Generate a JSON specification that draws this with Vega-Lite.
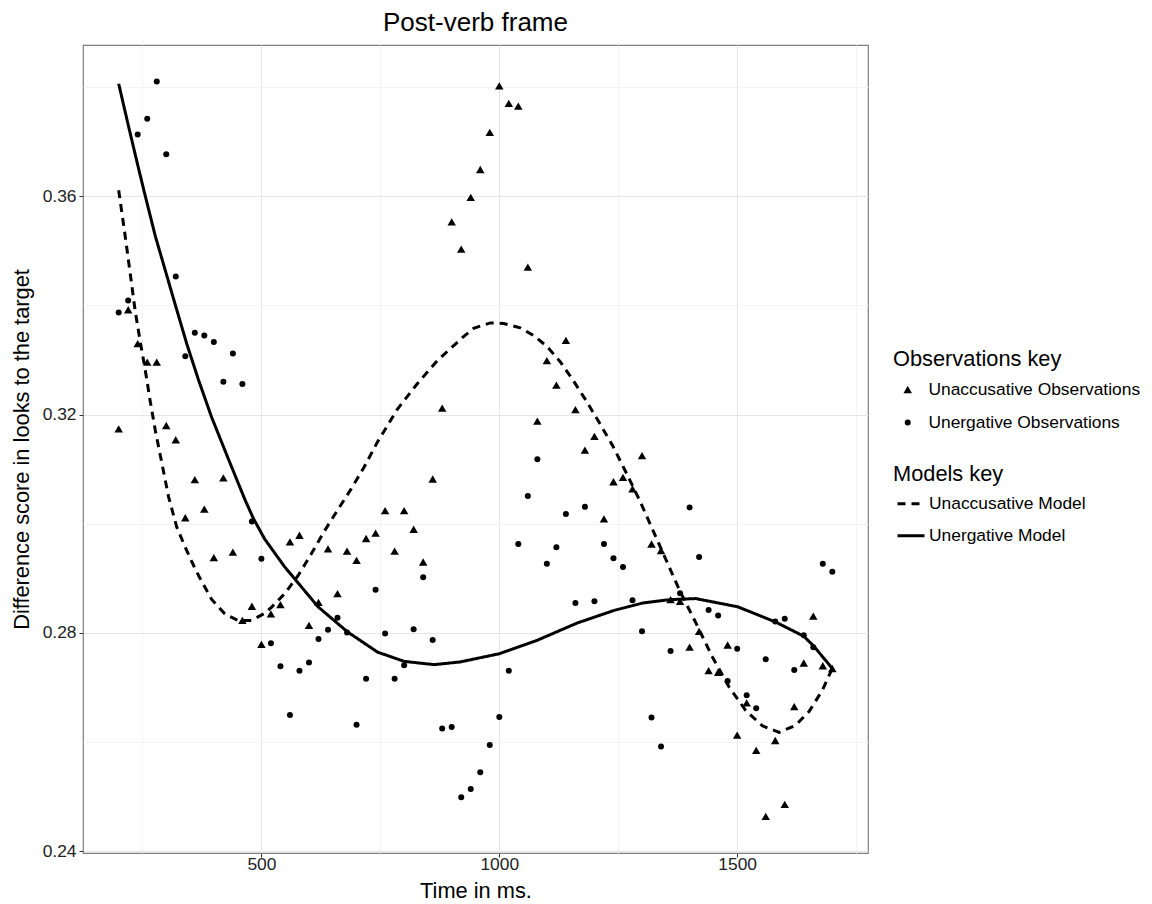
{
  "$schema": "https://vega.github.io/schema/vega-lite/v6.json",
  "width": 785,
  "height": 808,
  "autosize": {"type": "none"},
  "padding": {"left": 83, "top": 45, "right": 284, "bottom": 51},
  "background": "white",
  "title": {"text": "Post-verb frame", "fontSize": 26, "fontWeight": "normal", "color": "black", "frame": "group", "anchor": "middle", "baseline": "alphabetic", "offset": -12},
  "datasets": {
    "obs": [
      {"time":200,"score":0.3174,"type":"Unaccusative Observations"},
      {"time":220,"score":0.3392,"type":"Unaccusative Observations"},
      {"time":240,"score":0.3330,"type":"Unaccusative Observations"},
      {"time":260,"score":0.3296,"type":"Unaccusative Observations"},
      {"time":280,"score":0.3296,"type":"Unaccusative Observations"},
      {"time":300,"score":0.3180,"type":"Unaccusative Observations"},
      {"time":320,"score":0.3154,"type":"Unaccusative Observations"},
      {"time":340,"score":0.3011,"type":"Unaccusative Observations"},
      {"time":360,"score":0.3081,"type":"Unaccusative Observations"},
      {"time":380,"score":0.3027,"type":"Unaccusative Observations"},
      {"time":400,"score":0.2938,"type":"Unaccusative Observations"},
      {"time":420,"score":0.3084,"type":"Unaccusative Observations"},
      {"time":440,"score":0.2948,"type":"Unaccusative Observations"},
      {"time":460,"score":0.2823,"type":"Unaccusative Observations"},
      {"time":480,"score":0.2849,"type":"Unaccusative Observations"},
      {"time":500,"score":0.2779,"type":"Unaccusative Observations"},
      {"time":520,"score":0.2835,"type":"Unaccusative Observations"},
      {"time":540,"score":0.2852,"type":"Unaccusative Observations"},
      {"time":560,"score":0.2967,"type":"Unaccusative Observations"},
      {"time":580,"score":0.2979,"type":"Unaccusative Observations"},
      {"time":600,"score":0.2814,"type":"Unaccusative Observations"},
      {"time":620,"score":0.2856,"type":"Unaccusative Observations"},
      {"time":640,"score":0.2954,"type":"Unaccusative Observations"},
      {"time":660,"score":0.2872,"type":"Unaccusative Observations"},
      {"time":680,"score":0.2950,"type":"Unaccusative Observations"},
      {"time":700,"score":0.2933,"type":"Unaccusative Observations"},
      {"time":720,"score":0.2973,"type":"Unaccusative Observations"},
      {"time":740,"score":0.2983,"type":"Unaccusative Observations"},
      {"time":760,"score":0.3024,"type":"Unaccusative Observations"},
      {"time":780,"score":0.2950,"type":"Unaccusative Observations"},
      {"time":800,"score":0.3024,"type":"Unaccusative Observations"},
      {"time":820,"score":0.2990,"type":"Unaccusative Observations"},
      {"time":840,"score":0.2930,"type":"Unaccusative Observations"},
      {"time":860,"score":0.3082,"type":"Unaccusative Observations"},
      {"time":880,"score":0.3212,"type":"Unaccusative Observations"},
      {"time":900,"score":0.3553,"type":"Unaccusative Observations"},
      {"time":920,"score":0.3503,"type":"Unaccusative Observations"},
      {"time":940,"score":0.3598,"type":"Unaccusative Observations"},
      {"time":960,"score":0.3649,"type":"Unaccusative Observations"},
      {"time":980,"score":0.3717,"type":"Unaccusative Observations"},
      {"time":1000,"score":0.3802,"type":"Unaccusative Observations"},
      {"time":1020,"score":0.3770,"type":"Unaccusative Observations"},
      {"time":1040,"score":0.3765,"type":"Unaccusative Observations"},
      {"time":1060,"score":0.3470,"type":"Unaccusative Observations"},
      {"time":1080,"score":0.3188,"type":"Unaccusative Observations"},
      {"time":1100,"score":0.3299,"type":"Unaccusative Observations"},
      {"time":1120,"score":0.3254,"type":"Unaccusative Observations"},
      {"time":1140,"score":0.3336,"type":"Unaccusative Observations"},
      {"time":1160,"score":0.3209,"type":"Unaccusative Observations"},
      {"time":1180,"score":0.3135,"type":"Unaccusative Observations"},
      {"time":1200,"score":0.3160,"type":"Unaccusative Observations"},
      {"time":1220,"score":0.3009,"type":"Unaccusative Observations"},
      {"time":1240,"score":0.3077,"type":"Unaccusative Observations"},
      {"time":1260,"score":0.3085,"type":"Unaccusative Observations"},
      {"time":1280,"score":0.3064,"type":"Unaccusative Observations"},
      {"time":1300,"score":0.3125,"type":"Unaccusative Observations"},
      {"time":1320,"score":0.2963,"type":"Unaccusative Observations"},
      {"time":1340,"score":0.2951,"type":"Unaccusative Observations"},
      {"time":1360,"score":0.2861,"type":"Unaccusative Observations"},
      {"time":1380,"score":0.2858,"type":"Unaccusative Observations"},
      {"time":1400,"score":0.2774,"type":"Unaccusative Observations"},
      {"time":1420,"score":0.2803,"type":"Unaccusative Observations"},
      {"time":1440,"score":0.2731,"type":"Unaccusative Observations"},
      {"time":1460,"score":0.2728,"type":"Unaccusative Observations"},
      {"time":1480,"score":0.2778,"type":"Unaccusative Observations"},
      {"time":1500,"score":0.2613,"type":"Unaccusative Observations"},
      {"time":1520,"score":0.2672,"type":"Unaccusative Observations"},
      {"time":1540,"score":0.2585,"type":"Unaccusative Observations"},
      {"time":1560,"score":0.2464,"type":"Unaccusative Observations"},
      {"time":1580,"score":0.2603,"type":"Unaccusative Observations"},
      {"time":1600,"score":0.2486,"type":"Unaccusative Observations"},
      {"time":1620,"score":0.2665,"type":"Unaccusative Observations"},
      {"time":1640,"score":0.2745,"type":"Unaccusative Observations"},
      {"time":1660,"score":0.2831,"type":"Unaccusative Observations"},
      {"time":1680,"score":0.2740,"type":"Unaccusative Observations"},
      {"time":1700,"score":0.2735,"type":"Unaccusative Observations"},
      {"time":200,"score":0.3387,"type":"Unergative Observations"},
      {"time":220,"score":0.3409,"type":"Unergative Observations"},
      {"time":240,"score":0.3713,"type":"Unergative Observations"},
      {"time":260,"score":0.3742,"type":"Unergative Observations"},
      {"time":280,"score":0.3810,"type":"Unergative Observations"},
      {"time":300,"score":0.3677,"type":"Unergative Observations"},
      {"time":320,"score":0.3453,"type":"Unergative Observations"},
      {"time":340,"score":0.3307,"type":"Unergative Observations"},
      {"time":360,"score":0.3350,"type":"Unergative Observations"},
      {"time":380,"score":0.3345,"type":"Unergative Observations"},
      {"time":400,"score":0.3333,"type":"Unergative Observations"},
      {"time":420,"score":0.3260,"type":"Unergative Observations"},
      {"time":440,"score":0.3312,"type":"Unergative Observations"},
      {"time":460,"score":0.3256,"type":"Unergative Observations"},
      {"time":480,"score":0.3004,"type":"Unergative Observations"},
      {"time":500,"score":0.2936,"type":"Unergative Observations"},
      {"time":520,"score":0.2781,"type":"Unergative Observations"},
      {"time":540,"score":0.2739,"type":"Unergative Observations"},
      {"time":560,"score":0.2650,"type":"Unergative Observations"},
      {"time":580,"score":0.2731,"type":"Unergative Observations"},
      {"time":600,"score":0.2746,"type":"Unergative Observations"},
      {"time":620,"score":0.2789,"type":"Unergative Observations"},
      {"time":640,"score":0.2806,"type":"Unergative Observations"},
      {"time":660,"score":0.2828,"type":"Unergative Observations"},
      {"time":680,"score":0.2801,"type":"Unergative Observations"},
      {"time":700,"score":0.2632,"type":"Unergative Observations"},
      {"time":720,"score":0.2716,"type":"Unergative Observations"},
      {"time":740,"score":0.2879,"type":"Unergative Observations"},
      {"time":760,"score":0.2799,"type":"Unergative Observations"},
      {"time":780,"score":0.2716,"type":"Unergative Observations"},
      {"time":800,"score":0.2741,"type":"Unergative Observations"},
      {"time":820,"score":0.2807,"type":"Unergative Observations"},
      {"time":840,"score":0.2902,"type":"Unergative Observations"},
      {"time":860,"score":0.2787,"type":"Unergative Observations"},
      {"time":880,"score":0.2625,"type":"Unergative Observations"},
      {"time":900,"score":0.2628,"type":"Unergative Observations"},
      {"time":920,"score":0.2499,"type":"Unergative Observations"},
      {"time":940,"score":0.2514,"type":"Unergative Observations"},
      {"time":960,"score":0.2545,"type":"Unergative Observations"},
      {"time":980,"score":0.2595,"type":"Unergative Observations"},
      {"time":1000,"score":0.2646,"type":"Unergative Observations"},
      {"time":1020,"score":0.2731,"type":"Unergative Observations"},
      {"time":1040,"score":0.2963,"type":"Unergative Observations"},
      {"time":1060,"score":0.3051,"type":"Unergative Observations"},
      {"time":1080,"score":0.3118,"type":"Unergative Observations"},
      {"time":1100,"score":0.2927,"type":"Unergative Observations"},
      {"time":1120,"score":0.2957,"type":"Unergative Observations"},
      {"time":1140,"score":0.3018,"type":"Unergative Observations"},
      {"time":1160,"score":0.2855,"type":"Unergative Observations"},
      {"time":1180,"score":0.3031,"type":"Unergative Observations"},
      {"time":1200,"score":0.2858,"type":"Unergative Observations"},
      {"time":1220,"score":0.2963,"type":"Unergative Observations"},
      {"time":1240,"score":0.2937,"type":"Unergative Observations"},
      {"time":1260,"score":0.2921,"type":"Unergative Observations"},
      {"time":1280,"score":0.2860,"type":"Unergative Observations"},
      {"time":1300,"score":0.2803,"type":"Unergative Observations"},
      {"time":1320,"score":0.2645,"type":"Unergative Observations"},
      {"time":1340,"score":0.2592,"type":"Unergative Observations"},
      {"time":1360,"score":0.2767,"type":"Unergative Observations"},
      {"time":1380,"score":0.2873,"type":"Unergative Observations"},
      {"time":1400,"score":0.3030,"type":"Unergative Observations"},
      {"time":1420,"score":0.2939,"type":"Unergative Observations"},
      {"time":1440,"score":0.2842,"type":"Unergative Observations"},
      {"time":1460,"score":0.2832,"type":"Unergative Observations"},
      {"time":1480,"score":0.2712,"type":"Unergative Observations"},
      {"time":1500,"score":0.2771,"type":"Unergative Observations"},
      {"time":1520,"score":0.2686,"type":"Unergative Observations"},
      {"time":1540,"score":0.2662,"type":"Unergative Observations"},
      {"time":1560,"score":0.2752,"type":"Unergative Observations"},
      {"time":1580,"score":0.2821,"type":"Unergative Observations"},
      {"time":1600,"score":0.2826,"type":"Unergative Observations"},
      {"time":1620,"score":0.2732,"type":"Unergative Observations"},
      {"time":1640,"score":0.2796,"type":"Unergative Observations"},
      {"time":1660,"score":0.2774,"type":"Unergative Observations"},
      {"time":1680,"score":0.2927,"type":"Unergative Observations"},
      {"time":1700,"score":0.2912,"type":"Unergative Observations"}
    ],
    "models": [
      {"time":200,"score":0.3611,"model":"Unaccusative Model"},
      {"time":214,"score":0.3525,"model":"Unaccusative Model"},
      {"time":224,"score":0.3460,"model":"Unaccusative Model"},
      {"time":235,"score":0.3388,"model":"Unaccusative Model"},
      {"time":246,"score":0.3330,"model":"Unaccusative Model"},
      {"time":256,"score":0.3281,"model":"Unaccusative Model"},
      {"time":266,"score":0.3226,"model":"Unaccusative Model"},
      {"time":277,"score":0.3171,"model":"Unaccusative Model"},
      {"time":291,"score":0.3110,"model":"Unaccusative Model"},
      {"time":305,"score":0.3049,"model":"Unaccusative Model"},
      {"time":322,"score":0.2994,"model":"Unaccusative Model"},
      {"time":340,"score":0.2957,"model":"Unaccusative Model"},
      {"time":354,"score":0.2930,"model":"Unaccusative Model"},
      {"time":368,"score":0.2905,"model":"Unaccusative Model"},
      {"time":395,"score":0.2862,"model":"Unaccusative Model"},
      {"time":423,"score":0.2835,"model":"Unaccusative Model"},
      {"time":451,"score":0.2823,"model":"Unaccusative Model"},
      {"time":479,"score":0.2823,"model":"Unaccusative Model"},
      {"time":507,"score":0.2836,"model":"Unaccusative Model"},
      {"time":521,"score":0.2847,"model":"Unaccusative Model"},
      {"time":549,"score":0.2872,"model":"Unaccusative Model"},
      {"time":577,"score":0.2905,"model":"Unaccusative Model"},
      {"time":605,"score":0.2945,"model":"Unaccusative Model"},
      {"time":632,"score":0.2986,"model":"Unaccusative Model"},
      {"time":660,"score":0.3025,"model":"Unaccusative Model"},
      {"time":688,"score":0.3063,"model":"Unaccusative Model"},
      {"time":716,"score":0.3104,"model":"Unaccusative Model"},
      {"time":744,"score":0.3150,"model":"Unaccusative Model"},
      {"time":786,"score":0.3210,"model":"Unaccusative Model"},
      {"time":828,"score":0.3257,"model":"Unaccusative Model"},
      {"time":870,"score":0.3299,"model":"Unaccusative Model"},
      {"time":925,"score":0.3343,"model":"Unaccusative Model"},
      {"time":946,"score":0.3358,"model":"Unaccusative Model"},
      {"time":981,"score":0.3368,"model":"Unaccusative Model"},
      {"time":1009,"score":0.3367,"model":"Unaccusative Model"},
      {"time":1044,"score":0.3359,"model":"Unaccusative Model"},
      {"time":1072,"score":0.3345,"model":"Unaccusative Model"},
      {"time":1100,"score":0.3325,"model":"Unaccusative Model"},
      {"time":1128,"score":0.3297,"model":"Unaccusative Model"},
      {"time":1155,"score":0.3263,"model":"Unaccusative Model"},
      {"time":1183,"score":0.3225,"model":"Unaccusative Model"},
      {"time":1211,"score":0.3184,"model":"Unaccusative Model"},
      {"time":1239,"score":0.3142,"model":"Unaccusative Model"},
      {"time":1267,"score":0.3093,"model":"Unaccusative Model"},
      {"time":1295,"score":0.3043,"model":"Unaccusative Model"},
      {"time":1323,"score":0.2988,"model":"Unaccusative Model"},
      {"time":1354,"score":0.2927,"model":"Unaccusative Model"},
      {"time":1379,"score":0.2878,"model":"Unaccusative Model"},
      {"time":1414,"score":0.2817,"model":"Unaccusative Model"},
      {"time":1448,"score":0.2756,"model":"Unaccusative Model"},
      {"time":1483,"score":0.2701,"model":"Unaccusative Model"},
      {"time":1518,"score":0.2658,"model":"Unaccusative Model"},
      {"time":1553,"score":0.2630,"model":"Unaccusative Model"},
      {"time":1588,"score":0.2618,"model":"Unaccusative Model"},
      {"time":1623,"score":0.2631,"model":"Unaccusative Model"},
      {"time":1651,"score":0.2656,"model":"Unaccusative Model"},
      {"time":1679,"score":0.2695,"model":"Unaccusative Model"},
      {"time":1700,"score":0.2735,"model":"Unaccusative Model"},
      {"time":200,"score":0.3806,"model":"Unergative Model"},
      {"time":221,"score":0.3727,"model":"Unergative Model"},
      {"time":242,"score":0.3650,"model":"Unergative Model"},
      {"time":256,"score":0.3600,"model":"Unergative Model"},
      {"time":277,"score":0.3527,"model":"Unergative Model"},
      {"time":298,"score":0.3464,"model":"Unergative Model"},
      {"time":319,"score":0.3401,"model":"Unergative Model"},
      {"time":343,"score":0.3330,"model":"Unergative Model"},
      {"time":368,"score":0.3263,"model":"Unergative Model"},
      {"time":395,"score":0.3196,"model":"Unergative Model"},
      {"time":430,"score":0.3120,"model":"Unergative Model"},
      {"time":465,"score":0.3045,"model":"Unergative Model"},
      {"time":483,"score":0.3010,"model":"Unergative Model"},
      {"time":507,"score":0.2972,"model":"Unergative Model"},
      {"time":549,"score":0.2921,"model":"Unergative Model"},
      {"time":573,"score":0.2896,"model":"Unergative Model"},
      {"time":619,"score":0.2848,"model":"Unergative Model"},
      {"time":681,"score":0.2802,"model":"Unergative Model"},
      {"time":744,"score":0.2765,"model":"Unergative Model"},
      {"time":800,"score":0.2748,"model":"Unergative Model"},
      {"time":863,"score":0.2742,"model":"Unergative Model"},
      {"time":918,"score":0.2747,"model":"Unergative Model"},
      {"time":1000,"score":0.2762,"model":"Unergative Model"},
      {"time":1078,"score":0.2786,"model":"Unergative Model"},
      {"time":1163,"score":0.2818,"model":"Unergative Model"},
      {"time":1240,"score":0.2841,"model":"Unergative Model"},
      {"time":1302,"score":0.2855,"model":"Unergative Model"},
      {"time":1358,"score":0.2861,"model":"Unergative Model"},
      {"time":1413,"score":0.2863,"model":"Unergative Model"},
      {"time":1501,"score":0.2848,"model":"Unergative Model"},
      {"time":1581,"score":0.2820,"model":"Unergative Model"},
      {"time":1640,"score":0.2794,"model":"Unergative Model"},
      {"time":1661,"score":0.2776,"model":"Unergative Model"},
      {"time":1700,"score":0.2735,"model":"Unergative Model"}
    ]
  },
  "layer": [
    {
      "data": {"name": "obs"},
      "mark": {"type": "point", "filled": true, "opacity": 1, "color": "black", "strokeWidth": 0},
      "encoding": {
        "x": {"field": "time", "type": "quantitative", "title": "Time in ms.",
              "scale": {"domain": [125, 1775], "nice": false, "zero": false},
              "axis": {"values": [250, 500, 750, 1000, 1250, 1500, 1750],
                       "labelExpr": "datum.value % 500 == 0 ? format(datum.value, 'd') : ''",
                       "gridColor": {"condition": {"test": "datum.value % 500 == 0", "value": "#e6e6e6"}, "value": "#f4f4f4"},
                       "tickColor": {"condition": {"test": "datum.value % 500 == 0", "value": "#333333"}, "value": "transparent"}}},
        "y": {"field": "score", "type": "quantitative", "title": "Difference score in looks to the target",
              "scale": {"domain": [0.2397, 0.3877], "nice": false, "zero": false},
              "axis": {"values": [0.24, 0.26, 0.28, 0.30, 0.32, 0.34, 0.36, 0.38],
                       "labelExpr": "round(datum.value * 100) % 4 == 0 ? format(datum.value, '.2f') : ''",
                       "gridColor": {"condition": {"test": "round(datum.value * 100) % 4 == 0", "value": "#e6e6e6"}, "value": "#f4f4f4"},
                       "tickColor": {"condition": {"test": "round(datum.value * 100) % 4 == 0", "value": "#333333"}, "value": "transparent"}}},
        "shape": {"field": "type", "type": "nominal",
                  "scale": {"domain": ["Unaccusative Observations", "Unergative Observations"], "range": ["triangle-up", "circle"]},
                  "legend": {"title": "Observations key", "orient": "none", "legendX": 810, "legendY": 304,
                             "symbolOffset": 6, "labelOffset": 12, "rowPadding": 14, "titlePadding": 10, "labelLimit": 400,
                             "symbolFillColor": "black", "symbolStrokeWidth": 0}},
        "size": {"field": "type", "type": "nominal",
                 "scale": {"domain": ["Unaccusative Observations", "Unergative Observations"], "range": [72, 36]},
                 "legend": {"title": "Observations key", "orient": "none", "legendX": 810, "legendY": 304,
                            "symbolOffset": 6, "labelOffset": 12, "rowPadding": 14, "titlePadding": 10, "labelLimit": 400,
                            "symbolFillColor": "black", "symbolStrokeWidth": 0}},
        "fillOpacity": {"field": "type", "type": "ordinal", "sort": "descending",
                        "scale": {"type": "ordinal", "range": [1, 1]},
                        "legend": {"title": null, "orient": "none", "legendX": 809, "legendY": 327,
                                   "symbolType": "square", "symbolSize": 961, "labelExpr": "''", "rowPadding": 2,
                                   "encoding": {"symbols": {"update": {"fill": {"value": "transparent"}, "stroke": {"value": "#cccccc"},
                                                                       "strokeWidth": {"value": 1.2}, "opacity": {"value": 1},
                                                                       "fillOpacity": {"value": 0}, "strokeOpacity": {"value": 1},
                                                                       "shape": {"value": "square"}, "size": {"value": 961}}}}}}
      }
    },
    {
      "data": {"name": "models"},
      "mark": {"type": "line", "color": "black", "strokeWidth": 3},
      "encoding": {
        "x": {"field": "time", "type": "quantitative"},
        "y": {"field": "score", "type": "quantitative"},
        "strokeDash": {"field": "model", "type": "nominal",
                       "scale": {"domain": ["Unaccusative Model", "Unergative Model"], "range": [[8, 6], [1, 0]]},
                       "legend": {"title": "Models key", "orient": "none", "legendX": 810, "legendY": 419,
                                  "symbolType": "stroke", "symbolSize": 729, "symbolStrokeWidth": 3, "symbolStrokeColor": "black",
                                  "symbolOffset": 3, "labelOffset": 3, "rowPadding": 8, "titlePadding": 3, "labelLimit": 400}},
        "strokeOpacity": {"field": "model", "type": "ordinal", "sort": "descending",
                          "scale": {"type": "ordinal", "range": [1, 1]},
                          "legend": {"title": null, "orient": "none", "legendX": 809, "legendY": 440,
                                     "symbolType": "square", "symbolSize": 961, "labelExpr": "''", "rowPadding": 1,
                                     "encoding": {"symbols": {"update": {"fill": {"value": "transparent"}, "stroke": {"value": "#cccccc"},
                                                                         "strokeWidth": {"value": 1.2}, "opacity": {"value": 1},
                                                                         "strokeDash": {"value": [1, 0]},
                                                                         "fillOpacity": {"value": 0}, "strokeOpacity": {"value": 1},
                                                                         "shape": {"value": "square"}, "size": {"value": 961}}}}}}
      }
    }
  ],
  "config": {
    "font": "Liberation Sans",
    "view": {"stroke": "#7f7f7f", "strokeWidth": 1.2},
    "axis": {"domain": false, "labelFontSize": 17.4, "labelColor": "#222222", "titleFontSize": 21.8, "titleFontWeight": "normal", "titleColor": "black", "tickSize": 4, "tickWidth": 1, "gridWidth": 1},
    "axisX": {"labelPadding": -2, "titlePadding": 8},
    "axisY": {"labelPadding": 3, "titlePadding": 9},
    "legend": {"titleFontSize": 21.8, "titleFontWeight": "normal", "titleColor": "black", "labelFontSize": 17.4, "labelColor": "black", "padding": 0}
  }
}
